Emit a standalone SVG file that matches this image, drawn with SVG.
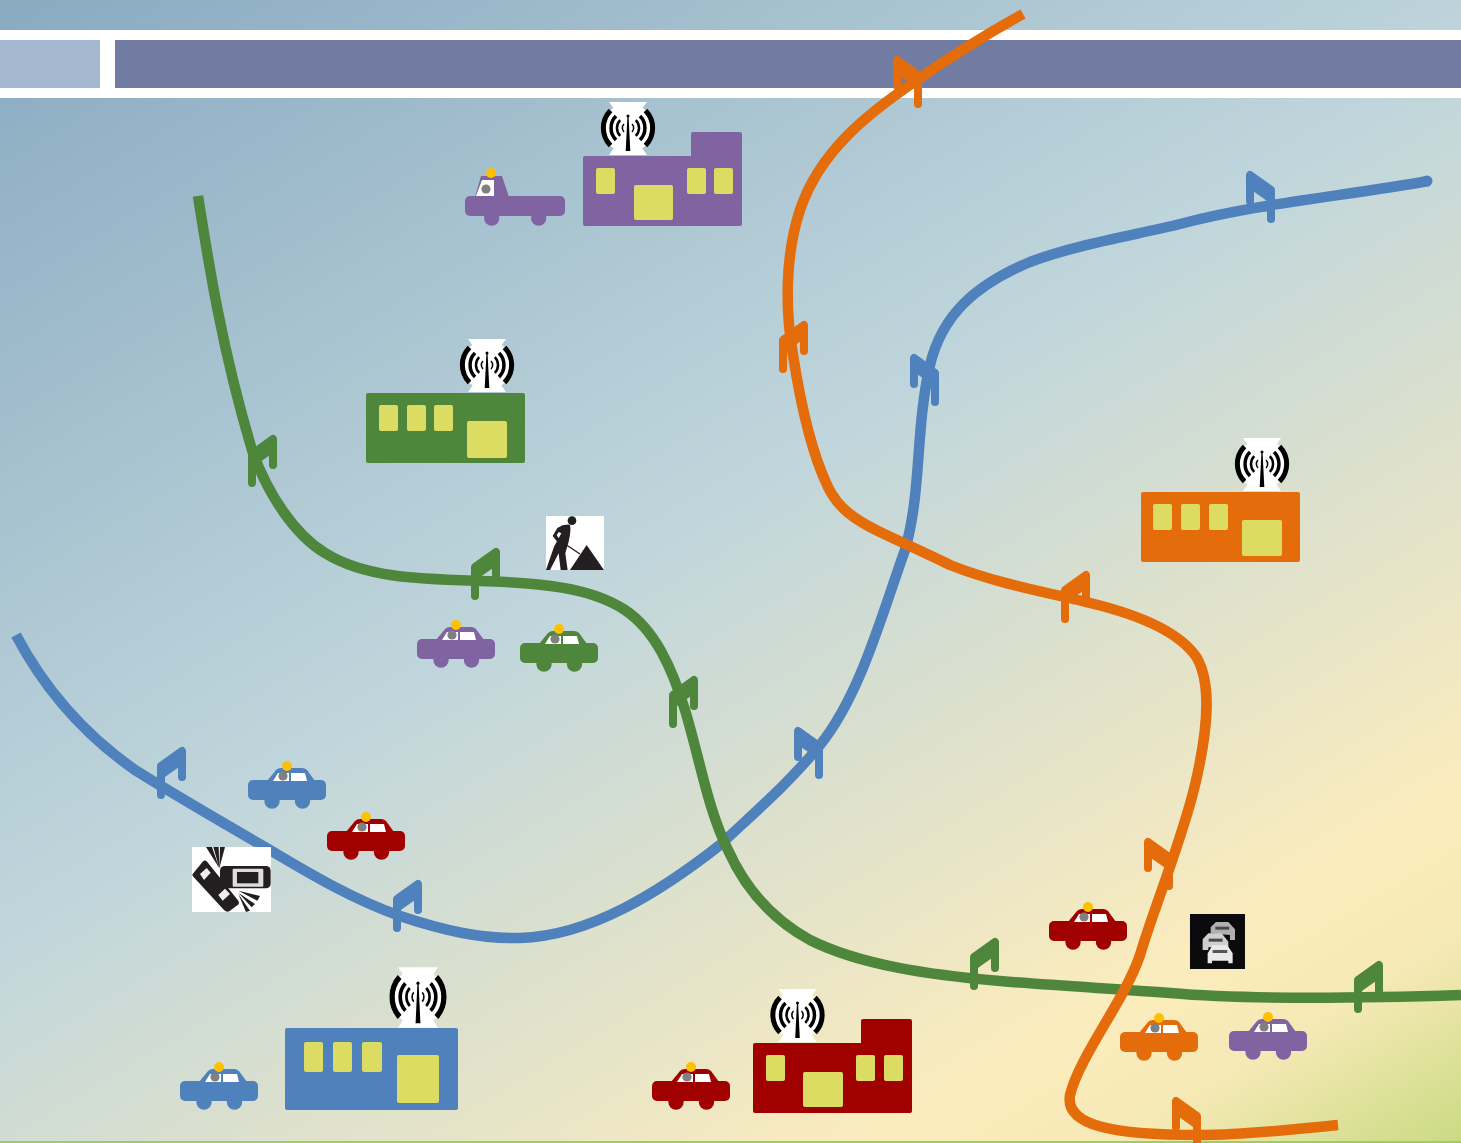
<svg xmlns="http://www.w3.org/2000/svg" width="1461" height="1143" viewBox="0 0 1461 1143">
<style>
.blue{fill:#4f81bd}.green{fill:#4e863c}.orange{fill:#e46c0a}.purple{fill:#8064a2}.red{fill:#a00000}
.win{fill:#dcdc62}
.road{fill:none;stroke-width:10.500;stroke-linecap:butt;stroke-linejoin:round}
.chev{fill:none;stroke-width:8;stroke-linecap:round;stroke-linejoin:round}
.sb{stroke:#4f81bd}.sg{stroke:#4e863c}.so{stroke:#e46c0a}
.arc{fill:none;stroke:#000}
.ink{fill:#231f20}
</style>
<defs>
<linearGradient id="bg" gradientUnits="userSpaceOnUse" x1="0" y1="0" x2="915" y2="1534">
<stop offset="0" stop-color="#89aac1"/><stop offset="0.45" stop-color="#c0d6dc"/><stop offset="0.8" stop-color="#fbecbd"/><stop offset="0.87" stop-color="#f5e9b5"/><stop offset="1" stop-color="#bcd672"/>
</linearGradient>
<g id="arrow">
<path class="chev" d="M0 29V0L21 -15V11"/>
<polygon points="0,0 21,-15 21,-1 8,8 0,14" stroke="none"/>
</g>
<g id="car">
<rect x="0" y="0" width="78" height="20" rx="5"/>
<circle cx="24" cy="21" r="7.700"/><circle cx="54.500" cy="21" r="7.700"/>
<path d="M19 1 L28 -10 Q30 -12 33 -12 H54 Q57 -12 59 -10 L67 1Z"/>
<path d="M25 1 L30 -7 H41 V1Z M43 -7 H57 L59 1 H43Z" fill="#fff"/>
<circle cx="35" cy="-4" r="4.600" fill="#808080"/>
<circle cx="39" cy="-14" r="5" fill="#ffc000"/>
</g>
<g id="antenna">
<circle r="25" fill="#fff"/>
<polygon points="-19,-26 19,-26 0,0 19,27 -19,27 0,0" fill="#fff"/>
<path class="arc" stroke-width="1.500" d="M-4 -4A5.700 5.700 0 0 0 -4 4M4 -4A5.700 5.700 0 0 1 4 4"/>
<path class="arc" stroke-width="2.500" d="M-7.800 -7.800A11 11 0 0 0 -7.800 7.800M7.800 -7.800A11 11 0 0 1 7.800 7.800"/>
<path class="arc" stroke-width="3.500" d="M-12 -12A17 17 0 0 0 -12 12M12 -12A17 17 0 0 1 12 12"/>
<path class="arc" stroke-width="5" d="M-17.500 -17.500A25 25 0 0 0 -17.500 17.500M17.500 -17.500A25 25 0 0 1 17.500 17.500"/>
<polygon points="-0.600,-11 0.600,-11 2.300,23 -2.300,23" fill="#000"/><circle cy="-12" r="1.500" fill="#000"/>
</g>
</defs>

<rect id="background" width="1461" height="1143" fill="url(#bg)"/>
<rect y="1141" width="1461" height="2" fill="#a0cc60"/>
<g id="header">
<rect y="30" width="1461" height="68" fill="#fff"/>
<rect y="40" width="100" height="48" fill="#a3b8ce"/>
<rect x="115" y="40" width="1346" height="48" fill="#727ba2"/>
</g>

<g id="connectors">
<path class="road sb" d="M16 635C45 690 85 735 135 770C180 798 225 824 270 850C315 877 355 900 400 916C445 931 482 939 520 938C590 936 660 892 720 845C755 812 790 782 820 745C860 695 880 620 905 550C922 490 915 430 930 365C942 315 975 285 1030 262C1075 245 1130 236 1180 224C1260 203 1345 196 1428 181"/>
<circle cx="1427" cy="181" r="5.500" class="blue"/>
<path class="road sg" d="M198 196C208 260 222 350 252 450C268 495 295 535 325 553C365 578 420 579 480 581C540 583 590 587 625 610C655 630 672 668 685 710C700 760 708 810 728 850C745 888 770 918 810 940C860 965 930 975 1000 981C1060 986 1120 989 1170 993C1240 999 1340 999 1461 995"/>
<path class="road so" d="M1023 14C985 35 950 57 917 80C870 112 820 150 800 210C785 255 785 310 793 355C800 400 810 450 828 487C838 508 855 520 880 532C905 544 930 555 950 565C1000 585 1060 595 1090 603C1140 615 1180 632 1197 658C1212 685 1208 730 1195 785C1182 840 1155 905 1140 955C1125 1000 1080 1055 1070 1095C1065 1125 1110 1135 1200 1135C1250 1135 1295 1129 1338 1125"/>
<g class="sg green">
<use href="#arrow" transform="translate(252 454)"/>
<use href="#arrow" transform="translate(475 567)"/>
<use href="#arrow" transform="translate(673 695)"/>
<use href="#arrow" transform="translate(974 957)"/>
<use href="#arrow" transform="translate(1358 980)"/>
</g>
<g class="sb blue">
<use href="#arrow" transform="translate(161 766)"/>
<use href="#arrow" transform="translate(397 899)"/>
<use href="#arrow" transform="translate(819 746) scale(-1 1)"/>
<use href="#arrow" transform="translate(935 373) scale(-1 1)"/>
<use href="#arrow" transform="translate(1271 190) scale(-1 1)"/>
</g>
<g class="so orange">
<use href="#arrow" transform="translate(783 340)"/>
<use href="#arrow" transform="translate(1065 590)"/>
<use href="#arrow" transform="translate(918 75) scale(-1 1)"/>
<use href="#arrow" transform="translate(1169 857) scale(-1 1)"/>
<use href="#arrow" transform="translate(1197 1116) scale(-1 1)"/>
</g>
</g>

<g id="building-purple" class="purple">
<rect x="583" y="156" width="159" height="70" rx="2"/><rect x="691" y="132" width="51" height="40" rx="2"/>
<rect class="win" x="596" y="168" width="19" height="26" rx="2"/><rect class="win" x="687" y="168" width="19" height="26" rx="2"/><rect class="win" x="714" y="168" width="19" height="26" rx="2"/><rect class="win" x="634" y="185" width="39" height="35" rx="2"/>
</g>
<use id="antenna-purple" href="#antenna" x="628" y="128"/>
<g id="building-green" class="green">
<rect x="366" y="393" width="159" height="70" rx="2"/>
<rect class="win" x="379" y="405" width="19" height="26" rx="2"/><rect class="win" x="407" y="405" width="19" height="26" rx="2"/><rect class="win" x="434" y="405" width="19" height="26" rx="2"/><rect class="win" x="467" y="421" width="40" height="37" rx="2"/>
</g>
<use id="antenna-green" href="#antenna" x="487" y="365"/>
<g id="building-orange" class="orange">
<rect x="1141" y="492" width="159" height="70" rx="2"/>
<rect class="win" x="1153" y="504" width="19" height="26" rx="2"/><rect class="win" x="1181" y="504" width="19" height="26" rx="2"/><rect class="win" x="1209" y="504" width="19" height="26" rx="2"/><rect class="win" x="1242" y="520" width="40" height="36" rx="2"/>
</g>
<use id="antenna-orange" href="#antenna" x="1262" y="464"/>
<g id="building-blue" class="blue">
<rect x="285" y="1028" width="173" height="82" rx="2"/>
<rect class="win" x="304" y="1042" width="19" height="30" rx="2"/><rect class="win" x="333" y="1042" width="19" height="30" rx="2"/><rect class="win" x="362" y="1042" width="20" height="30" rx="2"/><rect class="win" x="397" y="1055" width="42" height="48" rx="2"/>
</g>
<use id="antenna-blue" href="#antenna" transform="translate(418 997) scale(1.050 1.140)"/>
<g id="building-red" class="red">
<rect x="753" y="1043" width="159" height="70" rx="2"/><rect x="861" y="1019" width="51" height="40" rx="2"/>
<rect class="win" x="766" y="1055" width="19" height="26" rx="2"/><rect class="win" x="856" y="1055" width="19" height="26" rx="2"/><rect class="win" x="884" y="1055" width="19" height="26" rx="2"/><rect class="win" x="803" y="1072" width="40" height="35" rx="2"/>
</g>
<use id="antenna-red" href="#antenna" x="797.500" y="1015"/>

<g id="truck" class="purple">
<rect x="465" y="196" width="100" height="20" rx="5"/>
<circle cx="491.700" cy="218" r="7.700"/><circle cx="538.700" cy="218" r="7.700"/>
<path d="M475 197 L481 176 H502 L509 197Z"/>
<path d="M476 196 L482 180 H494 V196Z" fill="#fff"/>
<circle cx="486" cy="189" r="4.600" fill="#808080"/>
<circle cx="491" cy="173" r="5" fill="#ffc000"/>
</g>
<use id="car-blue-1" href="#car" class="blue" x="248" y="780"/>
<use id="car-red-1" href="#car" class="red" x="327" y="831"/>
<use id="car-purple-1" href="#car" class="purple" x="417" y="639"/>
<use id="car-green-1" href="#car" class="green" x="520" y="643"/>
<use id="car-red-2" href="#car" class="red" x="1049" y="921"/>
<use id="car-orange-1" href="#car" class="orange" x="1120" y="1032"/>
<use id="car-purple-2" href="#car" class="purple" x="1229" y="1031"/>
<use id="car-blue-2" href="#car" class="blue" x="180" y="1081"/>
<use id="car-red-3" href="#car" class="red" x="652" y="1081"/>

<g id="accident-icon" transform="translate(170 750) scale(0.3333)">
<rect x="66" y="291" width="237" height="195" fill="#fff"/>
<rect class="ink" x="150" y="348" width="152" height="67" rx="14"/>
<rect x="188" y="356" width="92" height="54" rx="3" fill="#ddd"/>
<rect x="201" y="366" width="64" height="34" fill="#231f20"/>
<path class="ink" d="M68 372 L98 335 Q105 328 112 336 L205 452 Q210 460 202 466 L178 484 Q170 488 162 480 L70 380 Q65 376 68 372Z"/>
<path d="M90 372 L110 354 L122 368 L102 390Z M145 435 L165 416 L180 432 L158 452Z" fill="#eee"/>
<path class="ink" d="M148 355 L108 291 H126Z M148 355 L130 291 H146Z M148 355 L150 291 H165Z"/>
<path class="ink" d="M205 422 L270 438 L262 452Z M205 428 L255 462 L245 472Z M205 432 L240 482 L228 486Z"/>
</g>
<g id="roadwork-icon" transform="translate(400 500) scale(0.3333)">
<rect x="438" y="48" width="174" height="162" fill="#fff"/>
<circle class="ink" cx="516" cy="62" r="13"/>
<path class="ink" d="M458 108 L472 84 Q490 72 510 74 Q514 90 506 125 L496 160 L503 210 H482 L476 160 L450 210 H438 L462 140 L484 100 L476 96 L470 106 L492 135 L484 140Z"/>
<path d="M495 132 L540 162" stroke="#231f20" stroke-width="4"/>
<polygon class="ink" points="510,210 560,135 612,210"/>
</g>
<g id="traffic-icon" transform="translate(1040 890) scale(0.3333)">
<rect x="450" y="72" width="165" height="165" fill="#0b0b0d"/>
<path d="M512 130 V112 L528 96 H565 L585 118 V150 H570 V135Z" fill="#b0b0b0"/>
<rect x="526" y="110" width="42" height="9" fill="#4a4a4a"/>
<path d="M488 180 V148 L505 130 H545 L565 155 V172 H505 V180Z" fill="#cfcfcf"/>
<rect x="506" y="146" width="42" height="9" fill="#4a4a4a"/>
<path d="M503 220 V190 L518 166 H562 L578 190 V220 H565 V212 H516 V220Z" fill="#eaeaea"/>
<rect x="518" y="180" width="44" height="9" fill="#555"/>
</g>
</svg>
